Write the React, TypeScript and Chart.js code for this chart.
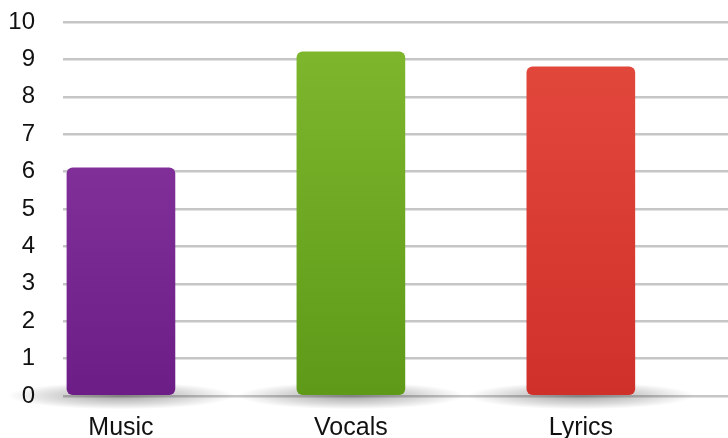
import React, { useEffect, useRef } from "react";
import { Chart, registerables } from "chart.js";

Chart.register(...registerables);

const categories = ["Music", "Vocals", "Lyrics"];
const values = [6.1, 9.2, 8.8];
const yTicks = [0, 1, 2, 3, 4, 5, 6, 7, 8, 9, 10];
const topColors = ["#8d3aa4", "#80b92f", "#e44a3e"];
const bottomColors = ["#6c1e86", "#5e9a18", "#d0302a"];

const shadowPlugin = {
  id: "barShadows",
  beforeDatasetsDraw(chart: any) {
    const meta = chart.getDatasetMeta(0);
    const ctx = chart.ctx;
    meta.data.forEach((bar: any) => {
      const w = bar.width;
      const cx = bar.x;
      const cy = bar.base + 1;
      ctx.save();
      ctx.translate(cx, cy);
      ctx.scale(1, 0.12);
      const g = ctx.createRadialGradient(0, 0, 0, 0, 0, w * 1.05);
      g.addColorStop(0, "rgba(0,0,0,0.35)");
      g.addColorStop(0.6, "rgba(0,0,0,0.15)");
      g.addColorStop(1, "rgba(0,0,0,0)");
      ctx.fillStyle = g;
      ctx.beginPath();
      ctx.arc(0, 0, w * 1.05, 0, Math.PI * 2);
      ctx.fill();
      ctx.restore();
    });
  },
};

export default function App() {
  const ref = useRef<HTMLCanvasElement | null>(null);

  useEffect(() => {
    document.body.style.margin = "0";
    const canvas = ref.current;
    if (!canvas) return;
    const chart = new Chart(canvas, {
      type: "bar",
      data: {
        datasets: [
          {
            data: values.map((v, i) => ({ x: i, y: v })),
            backgroundColor: (c: any) => {
              const area = c.chart.chartArea;
              const i = c.dataIndex ?? 0;
              if (!area) return topColors[i];
              const g = c.chart.ctx.createLinearGradient(0, area.top, 0, area.bottom);
              g.addColorStop(0, topColors[i]);
              g.addColorStop(1, bottomColors[i]);
              return g;
            },
            borderRadius: 6,
            borderSkipped: false,
            barThickness: 108,
          },
        ],
      },
      options: {
        animation: false,
        responsive: false,
        maintainAspectRatio: false,
        layout: { padding: 0 },
        plugins: { legend: { display: false }, tooltip: { enabled: false } },
        scales: {
          x: {
            type: "linear",
            offset: false,
            min: -0.252,
            max: 2.64,
            grid: { display: false, offset: false },
            border: { display: false },
            afterBuildTicks: (scale: any) => {
              scale.ticks = categories.map((_, i) => ({ value: i }));
            },
            afterFit: (scale: any) => {
              scale.height = 42;
            },
            ticks: {
              autoSkip: false,
              maxRotation: 0,
              padding: 9,
              color: "#111",
              font: { family: "Liberation Sans, Arial, sans-serif", size: 25 },
              callback: (v: any) => categories[v as number] ?? "",
            },
          },
          y: {
            min: 0,
            max: 10,
            afterBuildTicks: (scale: any) => {
              scale.ticks = yTicks.map((v) => ({ value: v }));
            },
            afterFit: (scale: any) => {
              scale.width = 63;
              scale.paddingTop = 22;
              scale.paddingBottom = 0;
            },
            border: { display: false },
            grid: { color: "#c6c6c6", lineWidth: 2.5, drawTicks: false },
            ticks: {
              padding: 28,
              color: "#111",
              font: { family: "Liberation Sans, Arial, sans-serif", size: 24 },
            },
          },
        },
      },
      plugins: [shadowPlugin],
    } as any);
    return () => chart.destroy();
  }, []);

  return (
    <div style={{ width: 728, height: 438 }}>
      <canvas ref={ref} width={728} height={438} style={{ width: 728, height: 438 }} />
    </div>
  );
}
